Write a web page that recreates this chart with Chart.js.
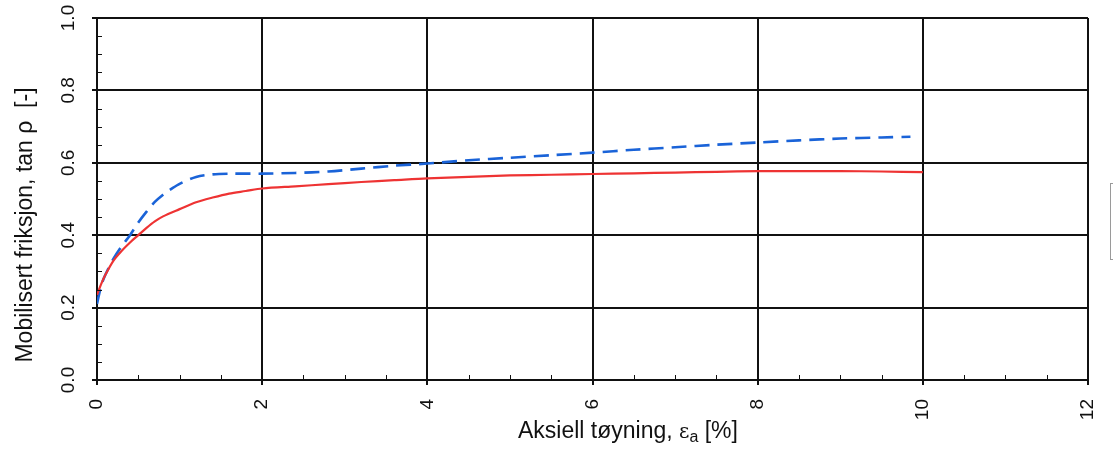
<!DOCTYPE html>
<html>
<head>
<meta charset="utf-8">
<script src="https://cdn.jsdelivr.net/npm/chart.js@4.4.1/dist/chart.umd.min.js"></script>
<style>
  html, body { margin: 0; padding: 0; background: #fff; }
  #wrap { width: 1113px; height: 450px; position: relative; }
</style>
</head>
<body>
<div id="wrap"><canvas id="c"></canvas></div>
<script>
// ---- Data ----
const xTickLabels = ['0', '2', '4', '6', '8', '10', '12'];
const yTickLabels = ['0.0', '0.2', '0.4', '0.6', '0.8', '1.0'];

const redX = [0, 0.05, 0.1, 0.2, 0.3, 0.4, 0.5, 0.6, 0.7, 0.8, 1.0, 1.2, 1.4, 1.6, 1.8, 2.0, 2.4, 2.8, 3.2, 3.6, 4.0, 4.5, 5.0, 5.5, 6.0, 6.5, 7.0, 7.5, 8.0, 8.5, 9.0, 9.5, 10.0];
const redY = [0.235, 0.265, 0.29, 0.33, 0.357, 0.38, 0.40, 0.42, 0.438, 0.452, 0.472, 0.491, 0.504, 0.515, 0.522, 0.529, 0.535, 0.541, 0.547, 0.552, 0.557, 0.561, 0.565, 0.567, 0.569, 0.571, 0.573, 0.575, 0.577, 0.577, 0.577, 0.576, 0.574];

const blueX = [0, 0.05, 0.1, 0.2, 0.3, 0.4, 0.5, 0.6, 0.7, 0.8, 0.9, 1.0, 1.2, 1.4, 1.6, 2.0, 2.4, 2.8, 3.2, 3.6, 4.0, 4.5, 5.0, 5.5, 6.0, 6.5, 7.0, 7.5, 8.0, 8.5, 9.0, 9.5, 9.85];
const blueY = [0.21, 0.26, 0.29, 0.335, 0.37, 0.40, 0.435, 0.465, 0.492, 0.512, 0.528, 0.542, 0.561, 0.568, 0.570, 0.570, 0.572, 0.576, 0.584, 0.592, 0.598, 0.607, 0.614, 0.621, 0.628, 0.636, 0.643, 0.650, 0.656, 0.662, 0.667, 0.670, 0.672];

const xTitle = 'Aksiell tøyning, ';
const xTitleSymbol = 'ε';
const xTitleSub = 'a';
const xTitleEnd = ' [%]';
const yTitle = 'Mobilisert friksjon, tan ρ  [-]';

// ---- Build datasets ----
const toPts = (xs, ys) => xs.map((x, i) => ({ x: x, y: ys[i] }));
const FONT = '"Liberation Sans", Arial, Helvetica, sans-serif';

const decorations = {
  id: 'decorations',
  afterDraw(chart) {
    const { ctx, chartArea: a, scales } = chart;
    const xs = scales.x, ys = scales.y;
    ctx.save();
    // inner minor ticks
    ctx.strokeStyle = '#111';
    ctx.lineWidth = 1;
    for (let k = 1; k < 20; k++) {
      if (k % 4 === 0) continue;
      const py = Math.round(ys.getPixelForValue(k * 0.05)) + 0.5;
      ctx.beginPath(); ctx.moveTo(a.left, py); ctx.lineTo(a.left + 5, py); ctx.stroke();
    }
    for (let k = 1; k < 24; k++) {
      if (k % 4 === 0) continue;
      const px = Math.round(xs.getPixelForValue(k * 0.5)) + 0.5;
      ctx.beginPath(); ctx.moveTo(px, a.bottom); ctx.lineTo(px, a.bottom - 5); ctx.stroke();
    }
    // y tick labels (rotated)
    ctx.fillStyle = '#111';
    ctx.font = '19px ' + FONT;
    yTickLabels.forEach(lab => {
      const py = ys.getPixelForValue(parseFloat(lab));
      ctx.save();
      ctx.translate(69, py);
      ctx.rotate(-Math.PI / 2);
      ctx.textAlign = 'center';
      ctx.textBaseline = 'middle';
      ctx.fillText(lab, 0, 0);
      ctx.restore();
    });
    // x tick labels (rotated)
    xTickLabels.forEach(lab => {
      const px = xs.getPixelForValue(parseFloat(lab));
      ctx.save();
      ctx.translate(px, 399);
      ctx.rotate(-Math.PI / 2);
      ctx.textAlign = 'right';
      ctx.textBaseline = 'middle';
      ctx.fillText(lab, 0, 0);
      ctx.restore();
    });
    // y title
    ctx.save();
    ctx.font = '23px ' + FONT;
    ctx.translate(26, 225);
    ctx.rotate(-Math.PI / 2);
    ctx.textAlign = 'center';
    ctx.textBaseline = 'middle';
    ctx.fillText(yTitle, 0, 0);
    ctx.restore();
    // x title with subscript
    ctx.textAlign = 'left';
    ctx.textBaseline = 'alphabetic';
    let x0 = 518;
    const base = 438;
    ctx.font = '23px ' + FONT;
    ctx.fillText(xTitle, x0, base);
    x0 += ctx.measureText(xTitle).width;
    ctx.font = '20px "DejaVu Serif", serif';
    ctx.fillText(xTitleSymbol, x0, base);
    x0 += ctx.measureText(xTitleSymbol).width;
    ctx.font = '16px ' + FONT;
    ctx.fillText(xTitleSub, x0, base + 4);
    x0 += ctx.measureText(xTitleSub).width;
    ctx.font = '23px ' + FONT;
    ctx.fillText(xTitleEnd, x0, base);
    // cut-off legend frame at the right edge
    ctx.strokeStyle = '#9a9a9a';
    ctx.lineWidth = 1;
    ctx.strokeRect(1110.5, 183.5, 20, 76);
    ctx.restore();
  }
};

new Chart(document.getElementById('c'), {
  type: 'line',
  data: {
    datasets: [
      {
        label: 'red',
        data: toPts(redX, redY),
        borderColor: '#ee3333',
        borderWidth: 2.2,
        pointRadius: 0,
        tension: 0.3,
        fill: false
      },
      {
        label: 'blue',
        data: toPts(blueX, blueY),
        borderColor: '#1a63d8',
        borderWidth: 2.6,
        borderDash: [15, 8],
        pointRadius: 0,
        tension: 0.3,
        fill: false
      }
    ]
  },
  options: {
    responsive: true,
    maintainAspectRatio: false,
    animation: false,
    layout: { padding: { left: 0, right: 25, top: 18, bottom: 0 } },
    plugins: { legend: { display: false }, tooltip: { enabled: false } },
    scales: {
      x: {
        type: 'linear',
        min: 0, max: 12,
        ticks: { stepSize: 2, display: false },
        grid: { color: '#111', lineWidth: 2, drawTicks: true, tickLength: 5 },
        border: { display: true, color: '#111', width: 2 },
        afterFit(s) { s.height = 70; }
      },
      y: {
        min: 0, max: 1,
        ticks: { stepSize: 0.2, display: false },
        grid: { color: '#111', lineWidth: 2, drawTicks: true, tickLength: 5 },
        border: { display: true, color: '#111', width: 2 },
        afterFit(s) { s.width = 97; }
      }
    }
  },
  plugins: [decorations]
});
</script>
</body>
</html>
